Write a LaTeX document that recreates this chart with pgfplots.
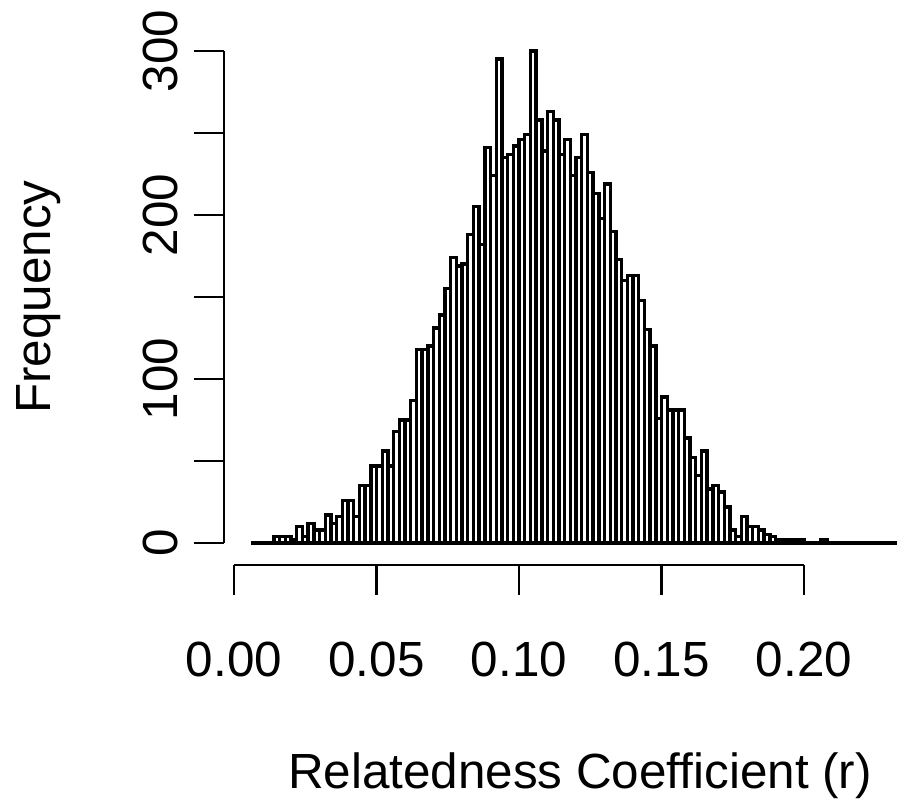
\documentclass[border=0pt]{standalone}
\usepackage{pgfplots}
\pgfplotsset{compat=1.18}
\usepackage{pgfplotstable}
\usepackage{fontspec}
\setmainfont{Liberation Sans}
\pgfplotstableread{
x y
0.006 0
0.008 0
0.010 0
0.012 0
0.014 4
0.016 4
0.018 4
0.020 2
0.022 10
0.024 4
0.026 12
0.028 8
0.030 8
0.032 17
0.034 12
0.036 16
0.038 26
0.040 26
0.042 16
0.044 35
0.046 35
0.048 47
0.050 47
0.052 56
0.054 47
0.056 68
0.058 75
0.060 75
0.062 87
0.064 118
0.066 118
0.068 120
0.070 131
0.072 139
0.074 155
0.076 174
0.078 169
0.080 170
0.082 188
0.084 205
0.086 182
0.088 241
0.090 224
0.092 295
0.094 235
0.096 237
0.098 242
0.100 246
0.102 249
0.104 300
0.106 258
0.108 239
0.110 263
0.112 258
0.114 237
0.116 246
0.118 224
0.120 235
0.122 249
0.124 226
0.126 213
0.128 198
0.130 219
0.132 190
0.134 173
0.136 160
0.138 163
0.140 163
0.142 148
0.144 130
0.146 120
0.148 76
0.150 89
0.152 81
0.154 81
0.156 81
0.158 64
0.160 52
0.162 41
0.164 56
0.166 33
0.168 35
0.170 31
0.172 22
0.174 8
0.176 4
0.178 16
0.180 10
0.182 10
0.184 8
0.186 5
0.188 4
0.190 2
0.192 2
0.194 2
0.196 2
0.198 2
0.200 0
0.202 0
0.204 0
0.206 2
0.208 0
0.210 0
0.212 0
0.214 0
0.216 0
0.218 0
0.220 0
0.222 0
0.224 0
0.226 0
0.228 0
0.230 0
0.232 0
0.234 0
0.236 0
}\histdata
\newcommand{\myfs}{\fontsize{24.7}{29}\selectfont}
\begin{document}
\begin{tikzpicture}
\begin{axis}[
  scale only axis,
  width=448.5pt, height=401.5pt,
  xmin=-0.0821053, xmax=0.2326316,
  ymin=-158.537, ymax=331.098,
  axis lines=none,
  clip=true,
]
\path (rel axis cs:0,0) rectangle (rel axis cs:1,1);
\addplot[ybar interval, draw=black, fill=white, line width=1.7pt] table[x=x,y=y] {\histdata};
% y axis
\draw[line width=1.2pt] (axis cs:-0.003509,0) -- (axis cs:-0.003509,300);
\pgfplotsinvokeforeach{0,50,100,150,200,250,300}{
  \draw[line width=1.2pt] (axis cs:-0.003509,#1) -- (axis cs:-0.014035,#1);
}
\pgfplotsinvokeforeach{0,100,200,300}{
  \node[rotate=90, anchor=base, font=\myfs] at (axis cs:-0.02,#1) {#1};
}
% x axis
\draw[line width=1.2pt] (axis cs:0,-13.41) -- (axis cs:0.2,-13.41);
\pgfplotsinvokeforeach{0,0.05,0.1,0.15,0.2}{
  \draw[line width=1.2pt] (axis cs:#1,-13.41) -- (axis cs:#1,-31.71);
}
\node[anchor=base, font=\myfs] at (axis cs:0,-81.7) {0.00};
\node[anchor=base, font=\myfs] at (axis cs:0.05,-81.7) {0.05};
\node[anchor=base, font=\myfs] at (axis cs:0.10,-81.7) {0.10};
\node[anchor=base, font=\myfs] at (axis cs:0.15,-81.7) {0.15};
\node[anchor=base, font=\myfs] at (axis cs:0.20,-81.7) {0.20};
\node[rotate=90, anchor=base, font=\myfs] at (axis cs:-0.064561,150) {Frequency};
\node[anchor=base, font=\myfs] at (axis cs:0.121404,-149.4) {Relatedness Coefficient (r)};
\end{axis}
\end{tikzpicture}
\end{document}
